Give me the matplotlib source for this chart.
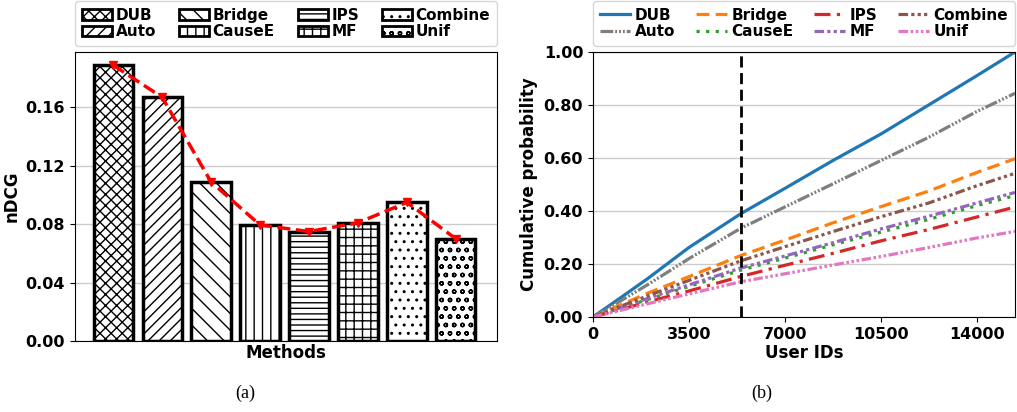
import matplotlib.pyplot as plt
import numpy as np

plt.rcParams['font.family'] = 'DejaVu Sans'
plt.rcParams['font.weight'] = 'bold'
plt.rcParams['hatch.linewidth'] = 1.0

# (a) nDCG per method
methods = ['DUB', 'Auto', 'Bridge', 'CauseE', 'IPS', 'MF', 'Combine', 'Unif']
ndcg = [0.189, 0.167, 0.109, 0.0795, 0.0750, 0.0810, 0.0950, 0.0700]
hatches = ['xxx', '///', '\\\\', '||', '---', '++', '..', 'oo']

# (b) cumulative probability over user IDs
user_ids = [0, 1000, 2000, 3500, 5400, 7000, 8750, 10500, 12250, 14000, 15400]
cum_prob = {
    'DUB':     [0, 0.072, 0.145, 0.262, 0.390, 0.485, 0.590, 0.690, 0.800, 0.910, 1.000],
    'Bridge':  [0, 0.045, 0.090, 0.152, 0.232, 0.290, 0.355, 0.416, 0.475, 0.545, 0.597],
    'IPS':     [0, 0.028, 0.057, 0.098, 0.153, 0.195, 0.240, 0.287, 0.330, 0.377, 0.415],
    'Combine': [0, 0.040, 0.080, 0.138, 0.212, 0.265, 0.322, 0.378, 0.430, 0.495, 0.542],
    'Auto':    [0, 0.060, 0.122, 0.220, 0.335, 0.415, 0.502, 0.590, 0.678, 0.775, 0.844],
    'CauseE':  [0, 0.033, 0.066, 0.115, 0.177, 0.222, 0.272, 0.320, 0.368, 0.420, 0.458],
    'MF':      [0, 0.035, 0.070, 0.121, 0.185, 0.230, 0.280, 0.332, 0.380, 0.430, 0.470],
    'Unif':    [0, 0.025, 0.050, 0.087, 0.133, 0.163, 0.196, 0.228, 0.262, 0.298, 0.323],
}
split_user = 5400
n_users = 15400

styles = {
    'DUB':     ('tab:blue', '-'),
    'Auto':    ('tab:gray', (0, (4, 0.6, 0.6, 0.6, 0.6, 0.6, 0.6, 0.6))),
    'Bridge':  ('tab:orange', (0, (4, 2))),
    'CauseE':  ('tab:green', (0, (1, 2))),
    'IPS':     ('tab:red', (0, (5, 2, 1, 2))),
    'MF':      ('tab:purple', (0, (3, 1, 1, 1, 1, 1))),
    'Combine': ('tab:brown', (0, (3, 1, 1, 1, 1, 1, 1, 1))),
    'Unif':    ('tab:pink', (0, (3, 0.8, 0.8, 0.8, 0.8, 0.8, 0.8, 0.8))),
}

fig = plt.figure(figsize=(10.17, 4.12), dpi=100)
ax1 = fig.add_axes([0.0737, 0.1723, 0.415, 0.7015])
ax2 = fig.add_axes([0.583, 0.2306, 0.415, 0.6432])

# --- panel (a)
x = np.arange(len(methods))
ax1.set_axisbelow(True)
ax1.grid(axis='y', color='#cccccc', lw=1)
for i, m in enumerate(methods):
    ax1.bar(x[i], ndcg[i], width=0.8, color='white', edgecolor='black',
            lw=2.5, hatch=hatches[i], label=m)
ax1.plot(x, ndcg, color='red', ls='--', lw=2.5, marker='v', ms=6, zorder=5)
ax1.set_xlim(-0.78, 7.84)
ax1.set_ylim(0, 0.198)
ax1.set_xticks([])
ax1.set_yticks([0, 0.04, 0.08, 0.12, 0.16])
ax1.set_yticklabels(['0.00', '0.04', '0.08', '0.12', '0.16'])
ax1.tick_params(axis='y', labelsize=11.5)
ax1.set_xlabel('Methods', fontsize=12, fontweight='bold', labelpad=2)
ax1.set_ylabel('nDCG', fontsize=12, fontweight='bold', labelpad=4)
leg1 = ax1.legend(ncol=4, loc='lower left', bbox_to_anchor=(0, 1.02, 1, 0.2), mode='expand',
                  borderaxespad=0, handlelength=2.0, handleheight=0.7, handletextpad=0.2,
                  labelspacing=0.1, borderpad=0.45, columnspacing=0.8,
                  prop={'weight': 'bold', 'size': 11})
for h in leg1.legend_handles:
    h.set_linewidth(2)

# --- panel (b)
ax2.grid(axis='y', color='#cccccc', lw=1)
for m in ['DUB', 'Auto', 'Bridge', 'CauseE', 'IPS', 'MF', 'Combine', 'Unif']:
    c, ls = styles[m]
    ax2.plot(user_ids, cum_prob[m], color=c, ls=ls, lw=2.3, label=m)
ax2.axvline(split_user, color='black', ls=(0, (4, 2)), lw=2)
ax2.set_xlim(0, n_users)
ax2.set_ylim(0, 1.0)
ax2.set_xticks([0, 3500, 7000, 10500, 14000])
ax2.set_yticks([0, 0.2, 0.4, 0.6, 0.8, 1.0])
ax2.set_yticklabels(['0.00', '0.20', '0.40', '0.60', '0.80', '1.00'])
ax2.tick_params(labelsize=11.5)
ax2.set_xlabel('User IDs', fontsize=12, fontweight='bold', labelpad=2)
ax2.set_ylabel('Cumulative probability', fontsize=12, fontweight='bold')
ax2.legend(ncol=4, loc='lower left', bbox_to_anchor=(0, 1.022, 1, 0.2), mode='expand',
           borderaxespad=0, handlelength=2.0, handletextpad=0.3, labelspacing=0.1,
           borderpad=0.45, columnspacing=0.8, prop={'weight': 'bold', 'size': 11})

fig.text(0.241, 0.035, '(a)', family='Liberation Serif', fontsize=13, ha='center', weight='normal')
fig.text(0.749, 0.035, '(b)', family='Liberation Serif', fontsize=13, ha='center', weight='normal')

plt.savefig('out.png', dpi=100)
